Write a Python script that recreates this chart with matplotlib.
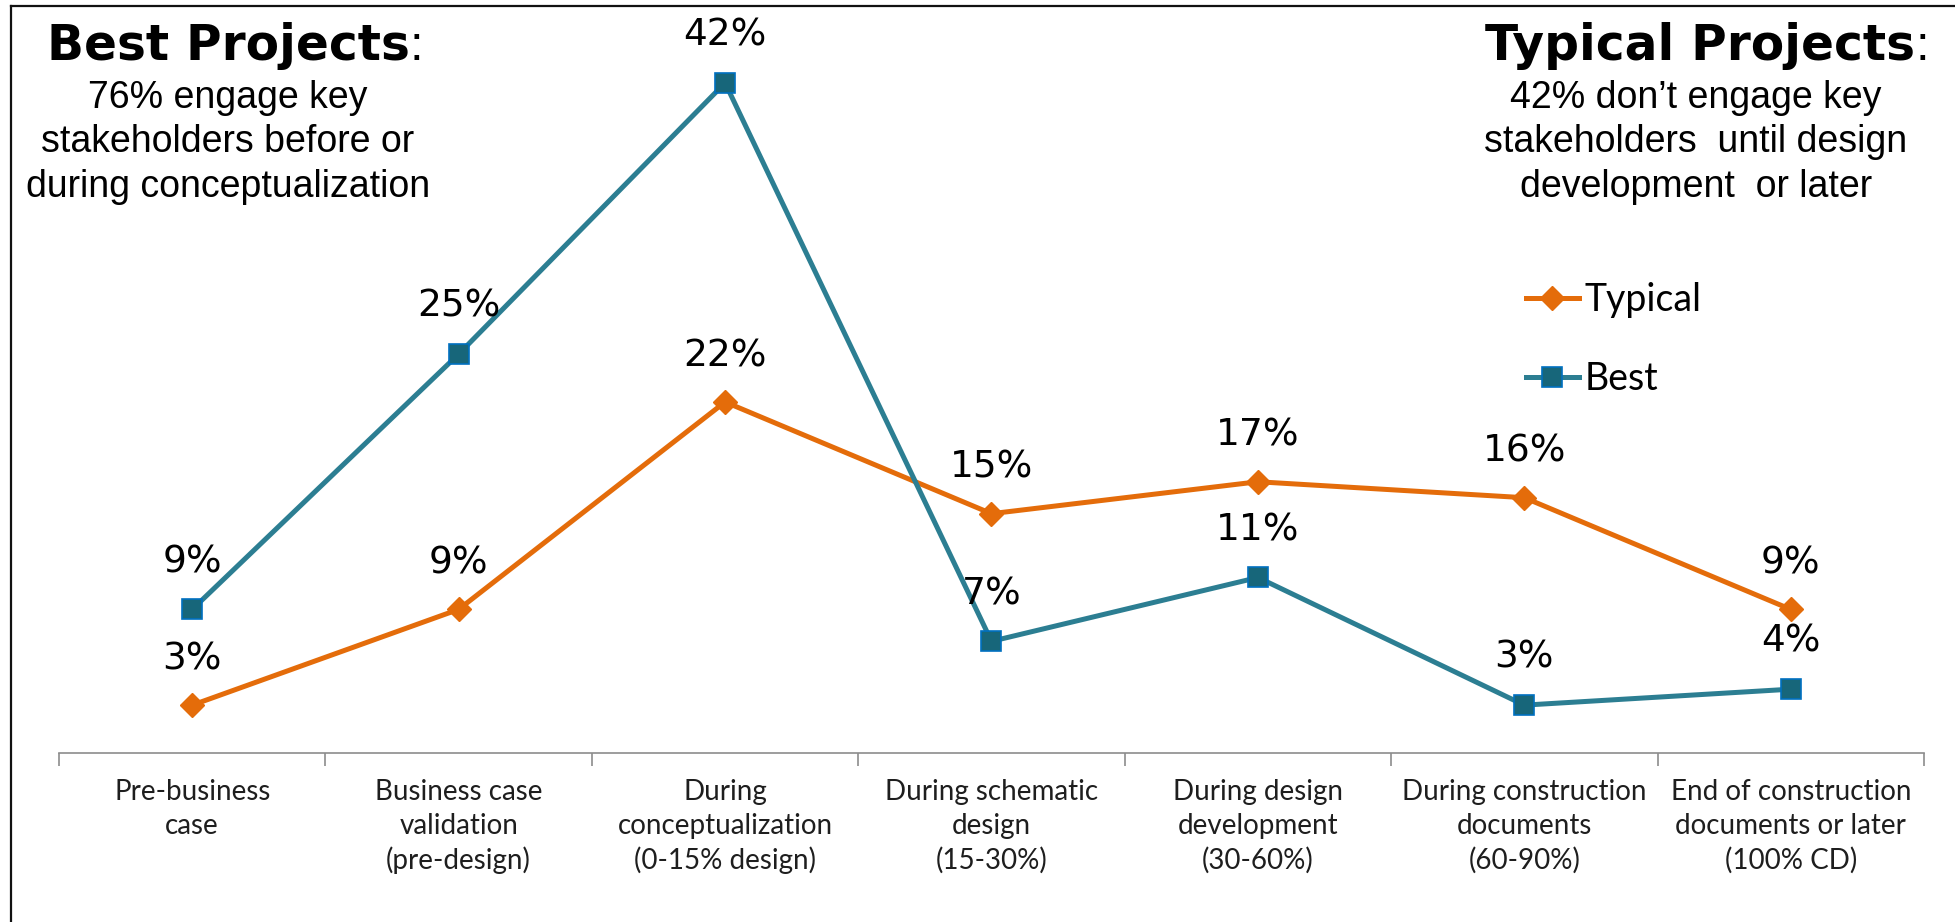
import matplotlib
matplotlib.use("Agg")
import matplotlib.pyplot as plt
from matplotlib.lines import Line2D

# data
stages = ["Pre-business\ncase",
          "Business case\nvalidation\n(pre-design)",
          "During\nconceptualization\n(0-15% design)",
          "During schematic\ndesign\n(15-30%)",
          "During design\ndevelopment\n(30-60%)",
          "During construction\ndocuments\n(60-90%)",
          "End of construction\ndocuments or later\n(100% CD)"]
typical = [3, 9, 22, 15, 17, 16, 9]
best = [9, 25, 42, 7, 11, 3, 4]

orange = "#E46C0A"
teal = "#2C7E92"

fig = plt.figure(figsize=(19.55, 9.22), dpi=100)
ax = fig.add_axes([59/1955, 169/922, 1865/1955, 718/922])

x = list(range(len(stages)))
ax.plot(x, typical, color=orange, lw=3.6, marker="D", ms=12.5,
        mfc=orange, mec=orange, label="Typical", zorder=3)
ax.plot(x, best, color=teal, lw=3.6, marker="s", ms=14.5,
        mfc="#17667A", mec="#0070C0", mew=1.2, label="Best", zorder=3)

for xi, v in zip(x, typical):
    ax.annotate(f"{v}%", (xi, v), xytext=(0, 33), textcoords="offset points",
                ha="center", va="center", fontsize=27, family="DejaVu Sans")
for xi, v in zip(x, best):
    ax.annotate(f"{v}%", (xi, v), xytext=(0, 34), textcoords="offset points",
                ha="center", va="center", fontsize=27, family="DejaVu Sans")

ax.set_xlim(-0.5, len(stages) - 0.5)
ax.set_ylim(0, 45)
ax.set_yticks([])
for s in ["left", "right", "top"]:
    ax.spines[s].set_visible(False)
ax.spines["bottom"].set_color("#8C8C8C")
ax.spines["bottom"].set_linewidth(1.2)

ax.set_xticks(x)
ax.set_xticklabels(stages, fontsize=20, family="Lato", color="#1E1E1E", linespacing=1.35)
ax.set_xticks([i - 0.5 for i in range(len(stages) + 1)], minor=True)
ax.tick_params(axis="x", which="major", length=0, pad=19)
ax.tick_params(axis="x", which="minor", length=9, color="#8C8C8C", width=1.2)

ax.legend(loc="upper left", bbox_to_anchor=(1526/1955, 1 - 282/922),
          bbox_transform=fig.transFigure, frameon=False,
          prop={"family": "Lato", "size": 27}, handlelength=1.4,
          handletextpad=0.15, labelspacing=1.15, borderpad=0, borderaxespad=0)

# headline notes
t1 = fig.text(228/1955, 1 - 46/922, "Best Projects", fontsize=35, weight="bold",
              family="DejaVu Sans", ha="center", va="center")
ax.annotate(":", xy=(1, 0), xycoords=t1, ha="left", va="bottom", fontsize=35,
            family="Liberation Sans", annotation_clip=False)
fig.text(228/1955, 1 - 80/922,
         "76% engage key\nstakeholders before or\nduring conceptualization",
         fontsize=27, family="Liberation Sans", ha="center", va="top", linespacing=1.3)

t2 = fig.text(1700/1955, 1 - 46/922, "Typical Projects", fontsize=35, weight="bold",
              family="DejaVu Sans", ha="center", va="center")
ax.annotate(":", xy=(1, 0), xycoords=t2, ha="left", va="bottom", fontsize=35,
            family="Liberation Sans", annotation_clip=False)
fig.text(1696/1955, 1 - 80/922,
         "42% don\u2019t engage key\nstakeholders  until design\ndevelopment  or later",
         fontsize=27, family="Liberation Sans", ha="center", va="top", linespacing=1.3)

# frame lines (top and left only)
fig.add_artist(Line2D([11/1955, 1], [1 - 6/922, 1 - 6/922], color="#111111", lw=1.6))
fig.add_artist(Line2D([11/1955, 11/1955], [0, 1 - 6/922], color="#111111", lw=1.6))

fig.savefig("out.png", dpi=100)
